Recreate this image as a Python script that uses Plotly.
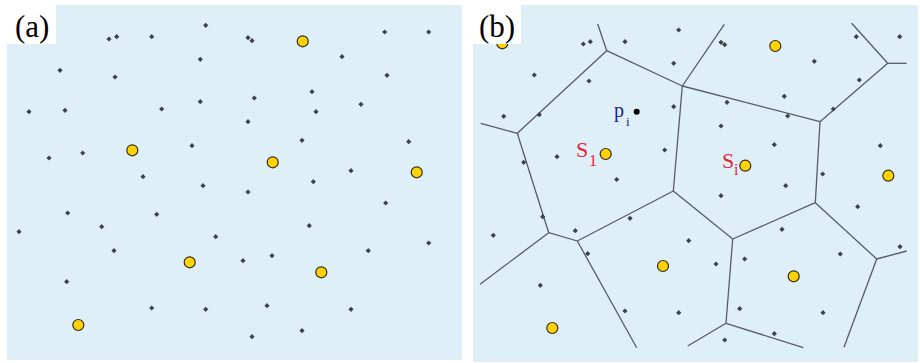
import plotly.graph_objects as go

# ---- panel (a): sample points and sites (panel-local units, y downward) ----
a_dots_x = [198.7, 102, 109.7, 144.7, 193.3, 53, 108, 22, 58, 154.7, 193.3, 185, 75.7, 42, 136,
            241, 245, 377.7, 421.7, 335, 380, 305, 247.3, 354, 309, 241, 295, 401.7, 344,
            196, 60.7, 149.7, 12, 94.7, 208.7, 107, 59.7, 144.7, 198.7,
            306.3, 241, 378.7, 302.3, 421.7, 361.3, 265, 236, 260, 344, 295, 245]
a_dots_y = [20.3, 34, 31.7, 31.7, 54.3, 65.3, 72, 106.7, 105.3, 104, 96.7, 140.7, 148, 153, 171.7,
            32.7, 35.7, 27, 27, 51.7, 70.3, 86.7, 93, 99.3, 106.7, 116.7, 135.3, 136.7, 165.7,
            180.7, 208, 209.3, 226.7, 221.7, 231.7, 245.7, 276.7, 303, 304.3,
            176.7, 187, 198, 220.7, 238, 245.7, 250.7, 255.7, 300.7, 304.3, 325.7, 331.7]
a_sites_x = [125.3, 295.7, 265.7, 409.7, 182.7, 71.3, 314.3]
a_sites_y = [145.3, 36.3, 157.3, 167.3, 257.3, 320, 267.3]

# ---- panel (b): sample points, sites, query point and Voronoi diagram ----
b_dots_x = [110.3, 117.3, 152, 205.7, 200.7, 61.3, 116, 30.7, 66.3, 200.7, 191.7, 84, 50.7, 143.7,
            248, 251.7, 341.3, 383.3, 426.7, 386.3, 360.3, 311.3, 254, 314.7, 248, 301.3, 407.3, 349.7,
            69.7, 20.3, 102.3, 157, 215.7, 114.7, 67.3, 152, 205.7,
            312.7, 248, 384.7, 309, 427, 367.3, 271.7, 243, 266.7, 350, 301.3, 251.7]
b_dots_y = [39, 36.7, 36.7, 25, 58.3, 70, 76, 111.3, 109.7, 101.7, 145, 151.7, 157.3, 174.5,
            37.3, 39.7, 56.3, 31.7, 31.7, 75, 104, 91.3, 97.3, 111, 121, 139.7, 140.7, 169,
            211.7, 230.3, 225.7, 213.3, 235.7, 248.7, 280.3, 306, 307.7,
            180.7, 190.7, 201.7, 224.3, 241.7, 249, 254, 259, 303.7, 307.7, 328.7, 335]
b_sites_x = [29.3, 132.7, 302.3, 272.3, 415.3, 190, 79.3, 320.7]
b_sites_y = [38.3, 149, 41, 160.7, 170.7, 261, 323, 271.3]
query_x = [163.7]
query_y = [106.7]

# Voronoi vertices (first 12) and clipped edge ends (last 11)
vor_x = [133.7, 209.3, 44.3, 75.7, 104.3, 200.3, 347, 414.7, 342.3, 259.7, 253, 403.7,
         124.7, 7.7, 7, 163.7, 251.3, 378.7, 433.7, 433.7, 371, 330.3, 214.7]
vor_y = [45.7, 81, 128.3, 227.7, 236, 186, 116.7, 58.3, 197.7, 234, 318.3, 254,
         19, 118.3, 279.3, 342.7, 19.3, 18.3, 58.3, 246, 342.3, 342.7, 341]
vor_edges = [(0, 12), (0, 1), (0, 2), (2, 13), (2, 3), (3, 14), (3, 4), (4, 5), (4, 15),
             (5, 1), (1, 6), (1, 16), (6, 7), (7, 17), (7, 18), (6, 8), (5, 9), (8, 9),
             (8, 11), (11, 19), (11, 20), (9, 10), (10, 21), (10, 22)]

BG = "#DFEFF8"
DOT = "#3f4348"
SITE_FILL = "#FFD200"
SITE_LINE = "#2f2c24"
EDGE = "#575c63"
SERIF = "Liberation Serif, Times New Roman, serif"

fig = go.Figure()

dot_marker = dict(symbol="diamond", size=4, color=DOT, line=dict(width=0))
site_marker = dict(symbol="circle", size=11, color=SITE_FILL, line=dict(width=1.2, color=SITE_LINE))

# panel (a)
fig.add_trace(go.Scatter(x=a_dots_x, y=a_dots_y, mode="markers", marker=dot_marker,
                         xaxis="x", yaxis="y", hoverinfo="skip"))
fig.add_trace(go.Scatter(x=a_sites_x, y=a_sites_y, mode="markers", marker=site_marker,
                         xaxis="x", yaxis="y", hoverinfo="skip"))

# panel (b): Voronoi edges first, then points on top
ex, ey = [], []
for i, j in vor_edges:
    ex += [vor_x[i], vor_x[j], None]
    ey += [vor_y[i], vor_y[j], None]
fig.add_trace(go.Scatter(x=ex, y=ey, mode="lines", line=dict(color=EDGE, width=1.3),
                         xaxis="x2", yaxis="y2", hoverinfo="skip"))
fig.add_trace(go.Scatter(x=b_dots_x, y=b_dots_y, mode="markers", marker=dot_marker,
                         xaxis="x2", yaxis="y2", hoverinfo="skip"))
fig.add_trace(go.Scatter(x=b_sites_x, y=b_sites_y, mode="markers", marker=site_marker,
                         xaxis="x2", yaxis="y2", hoverinfo="skip"))
fig.add_trace(go.Scatter(x=query_x, y=query_y, mode="markers",
                         marker=dict(symbol="circle", size=6, color="black"),
                         xaxis="x2", yaxis="y2", hoverinfo="skip"))

W, H = 920, 363
hidden = dict(visible=False, showgrid=False, zeroline=False, fixedrange=True)

fig.update_layout(
    width=W, height=H,
    margin=dict(l=0, r=0, t=0, b=0),
    paper_bgcolor="white", plot_bgcolor=BG,
    showlegend=False,
    xaxis=dict(domain=[7 / W, 462 / W], range=[0, 455], **hidden),
    yaxis=dict(domain=[1 - 360 / H, 1 - 5 / H], range=[355, 0], **hidden),
    xaxis2=dict(domain=[473 / W, 918 / W], range=[0, 445], **hidden),
    yaxis2=dict(domain=[1 - 362 / H, 1 - 5 / H], range=[357, 0], **hidden),
)

# white label boxes in the top-left corners
for xr, yr, w in (("x", "y", 49), ("x2", "y2", 48)):
    fig.add_shape(type="rect", xref=xr, yref=yr, x0=0, x1=w, y0=0, y1=39,
                  fillcolor="white", line=dict(width=0), layer="above")


def label(text, x, y, size, color, xr="x2", yr="y2"):
    fig.add_annotation(text=text, x=x, y=y, xref=xr, yref=yr, showarrow=False,
                       xanchor="center", yanchor="middle", borderpad=0,
                       font=dict(family=SERIF, size=size, color=color))


label("(a)", 24.5, 21, 31, "black", "x", "y")
label("(b)", 24, 21, 31, "black")

RED = "#e3263c"
NAVY = "#1f228c"
label("S", 109, 144.5, 22, RED)
label("1", 120, 155.5, 16, RED)
label("S", 254.5, 155.5, 22, RED)
label("i", 263.5, 164.5, 16, RED)
label("p", 146, 105, 20, NAVY)
label("i", 154.5, 116, 13, NAVY)

fig.write_html("out.html")
